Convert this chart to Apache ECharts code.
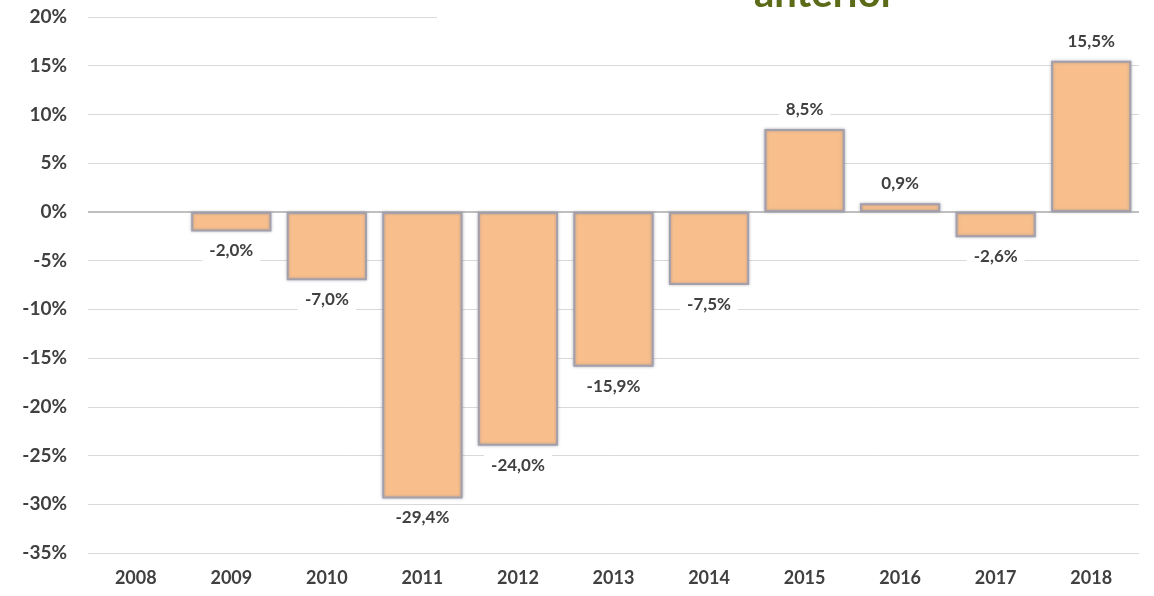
<!DOCTYPE html>
<html lang="pt">
<head>
    <meta charset="UTF-8">
    <title>Variação em relação ao ano anterior</title>
    <script src="https://cdn.jsdelivr.net/npm/echarts@6/dist/echarts.min.js"></script>
    <style>
        html, body { margin: 0; padding: 0; background: #fff; }
    </style>
</head>
<body>
    <div id="main" style="width: 1154px; height: 596px;"></div>

    <script>
        // Anos e variação (%) em relação ao ano anterior
        var years = ['2008', '2009', '2010', '2011', '2012', '2013', '2014', '2015', '2016', '2017', '2018'];
        var variation = [null, -2.0, -7.0, -29.4, -24.0, -15.9, -7.5, 8.5, 0.9, -2.6, 15.5];

        var fmt = function (v) {
            return v.toFixed(1).replace('.', ',') + '%';
        };

        var chart = echarts.init(document.getElementById('main'));

        var option = {
            backgroundColor: '#fff',
            animation: false,
            title: {
                text: 'anterior',
                left: 749,
                top: -31,
                textStyle: {
                    color: '#5B6B17',
                    fontFamily: 'Lato',
                    fontSize: 40,
                    fontWeight: 'bold'
                }
            },
            grid: { left: 88, right: 15, top: 17, bottom: 43 },
            xAxis: {
                type: 'category',
                data: years,
                axisTick: { show: false },
                axisLine: { show: false },
                axisLabel: {
                    margin: 16,
                    color: '#404040',
                    fontFamily: 'Lato',
                    fontWeight: 'bold',
                    fontSize: 18
                }
            },
            yAxis: {
                type: 'value',
                min: -35,
                max: 20,
                interval: 5,
                axisLine: { show: false },
                axisTick: { show: false },
                splitLine: { lineStyle: { color: '#D9D9D9', width: 1 } },
                axisLabel: {
                    margin: 21,
                    formatter: '{value}%',
                    color: '#404040',
                    fontFamily: 'Lato',
                    fontWeight: 'bold',
                    fontSize: 19
                }
            },
            graphic: [{
                type: 'rect',
                shape: { x: 437, y: 10, width: 710, height: 14 },
                style: { fill: '#fff' },
                z: 10
            }],
            series: [{
                type: 'bar',
                data: variation.map(function (v) {
                    return {
                        value: v,
                        label: { position: v >= 0 ? 'top' : 'bottom' }
                    };
                }),
                barCategoryGap: '16%',
                itemStyle: {
                    color: '#F8BF8D',
                    borderColor: '#A3A0AC',
                    borderWidth: 2,
                    shadowColor: 'rgba(120,120,140,0.5)',
                    shadowBlur: 3
                },
                label: {
                    show: true,
                    distance: 9,
                    formatter: function (p) { return fmt(p.value); },
                    color: '#404040',
                    fontFamily: 'Lato',
                    fontWeight: 'bold',
                    fontSize: 17,
                    backgroundColor: '#fff',
                    padding: [2, 7]
                },
                markLine: {
                    silent: true,
                    symbol: 'none',
                    label: { show: false },
                    lineStyle: { color: '#BFBFBF', type: 'solid', width: 2 },
                    data: [{ yAxis: 0 }],
                    z: 1
                }
            }]
        };

        chart.setOption(option);
    </script>
</body>
</html>
